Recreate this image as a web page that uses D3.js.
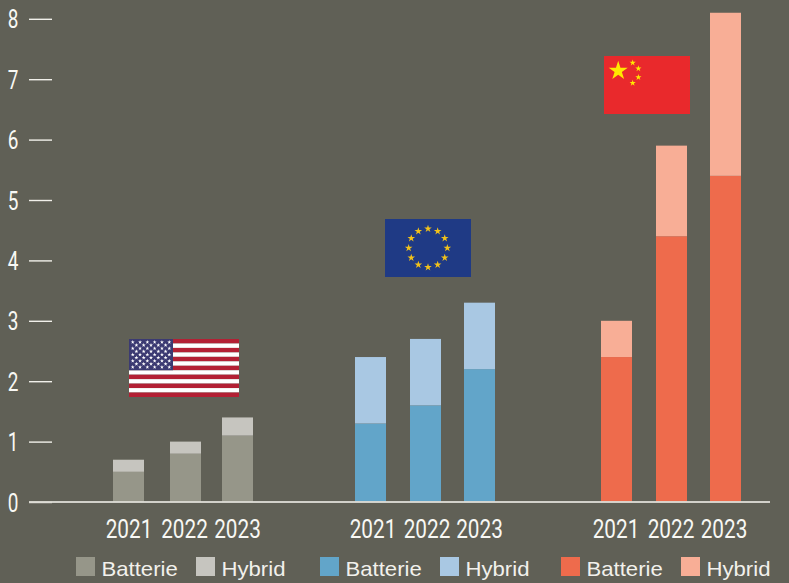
<!DOCTYPE html>
<html>
<head>
<meta charset="utf-8">
<script src="https://cdn.jsdelivr.net/npm/d3@7"></script>
<style>
  html, body { margin: 0; padding: 0; background: #606056; }
  svg { display: block; }
  .narrow { font-family: Roboto, "Liberation Sans", sans-serif; font-weight: 400; fill: #f8f8f4; }
  .legend { font-family: "Liberation Sans", Arial, sans-serif; fill: #f2f1ec; font-size: 20.5px; }
</style>
</head>
<body>
<svg id="chart" width="789" height="583"></svg>
<script>
// Annual values per region, split by drive type
const years = ["2021", "2022", "2023"];
const regions = ["USA", "EU", "China"];
const usaBattery = [0.5, 0.8, 1.1];
const usaHybrid = [0.2, 0.2, 0.3];
const euBattery = [1.3, 1.6, 2.2];
const euHybrid = [1.1, 1.1, 1.1];
const chinaBattery = [2.4, 4.4, 5.4];
const chinaHybrid = [0.6, 1.5, 2.7];
const yTicks = [0, 1, 2, 3, 4, 5, 6, 7, 8];
const legendLabels = ["Batterie", "Hybrid"];

const batteryByRegion = { USA: usaBattery, EU: euBattery, China: chinaBattery };
const hybridByRegion = { USA: usaHybrid, EU: euHybrid, China: chinaHybrid };

const batteryColor = d3.scaleOrdinal(regions, ["#969689", "#62a5c9", "#ee6b4c"]);
const hybridColor = d3.scaleOrdinal(regions, ["#c6c5bf", "#a9c8e3", "#f8ae96"]);

const svg = d3.select("#chart");
const y = d3.scaleLinear().domain([0, 8]).range([502, 18.8]);

// Bar slots are not evenly spaced, so each region has its own left edges
const barWidth = 31;
const barLeft = {
  USA: d3.scaleOrdinal(years, [113, 170, 222]),
  EU: d3.scaleOrdinal(years, [355, 410, 464]),
  China: d3.scaleOrdinal(years, [601, 656, 710])
};
const labelCentre = {
  USA: d3.scaleOrdinal(years, [129, 184.5, 237.5]),
  EU: d3.scaleOrdinal(years, [373, 427, 479.5]),
  China: d3.scaleOrdinal(years, [616, 671, 724])
};

// Stacked bars with condensed year labels below
regions.forEach(region => {
  const rows = years.map((year, i) => ({
    year,
    battery: batteryByRegion[region][i],
    hybrid: hybridByRegion[region][i]
  }));
  const layers = d3.stack().keys(["battery", "hybrid"])(rows);
  const g = svg.append("g").attr("class", "bars-" + region);
  layers.forEach(layer => {
    g.selectAll(null)
      .data(layer)
      .join("rect")
      .attr("x", d => barLeft[region](d.data.year))
      .attr("width", barWidth)
      .attr("y", d => y(d[1]))
      .attr("height", d => y(d[0]) - y(d[1]))
      .attr("fill", layer.key === "battery" ? batteryColor(region) : hybridColor(region));
  });
  g.selectAll("text")
    .data(years)
    .join("text")
    .attr("class", "narrow")
    .attr("transform", d => `translate(${labelCentre[region](d)},537.5) scale(0.83,1)`)
    .attr("text-anchor", "middle")
    .attr("font-size", 25)
    .text(d => d);
});

// Vertical axis: short ticks with condensed numerals on the far left
const axis = d3.axisLeft(y).tickValues(yTicks).tickSize(23).tickPadding(5).tickFormat(d3.format("d"));
const axisG = svg.append("g").attr("transform", "translate(52,0)").call(axis);
axisG.select(".domain").remove();
axisG.selectAll("line").attr("stroke", "#f1f0ea").attr("stroke-width", 1.4);
axisG.selectAll("text")
  .attr("class", "narrow")
  .attr("x", null)
  .attr("dy", null)
  .attr("text-anchor", "middle")
  .attr("font-size", 25)
  .attr("transform", "translate(-39,9) scale(0.76,1)");
axisG.attr("font-family", null).attr("font-size", null);

// Baseline runs over the bottoms of the bars
svg.append("line")
  .attr("x1", 29).attr("x2", 770)
  .attr("y1", y(0)).attr("y2", y(0))
  .attr("stroke", "#dcdbd4").attr("stroke-opacity", 0.92).attr("stroke-width", 2);

// Legend pairs, one per region
const legendX = { USA: [76, 196], EU: [320, 440], China: [561, 681] };
regions.forEach(region => {
  legendLabels.forEach((label, i) => {
    const x0 = legendX[region][i];
    svg.append("rect")
      .attr("x", x0).attr("y", 557).attr("width", 19).attr("height", 19)
      .attr("fill", i === 0 ? batteryColor(region) : hybridColor(region));
    svg.append("text")
      .attr("class", "legend")
      .attr("transform", `translate(${x0 + 25.5},575.5) scale(1.08,1)`)
      .text(label);
  });
});

const star = r => d3.symbol().type(d3.symbolStar).size(Math.PI * r * r * 0.56)();

// US flag: thirteen stripes, blue canton, nine staggered rows of stars
function usFlag(x0, y0, w, h) {
  const g = svg.append("g").attr("transform", `translate(${x0},${y0})`);
  const stripeY = d3.scaleBand().domain(d3.range(13)).range([0, h]);
  g.selectAll(".stripe").data(d3.range(13)).join("rect")
    .attr("x", 0).attr("width", w)
    .attr("y", d => stripeY(d)).attr("height", stripeY.bandwidth())
    .attr("fill", d => d % 2 ? "#ffffff" : "#b32034");
  const cantonW = w * 0.4, cantonH = stripeY.bandwidth() * 7;
  g.append("rect").attr("width", cantonW).attr("height", cantonH).attr("fill", "#3b3a72");
  const rowY = d3.scaleLinear().domain([0, 8]).range([cantonH * 0.1, cantonH * 0.9]);
  const colX = d3.scaleLinear().domain([0, 10]).range([cantonW * 0.085, cantonW * 0.915]);
  d3.range(9).forEach(row => {
    const cols = d3.range(row % 2 ? 1 : 0, 11, 2);
    g.selectAll(null).data(cols).join("path")
      .attr("d", star(1.7))
      .attr("transform", c => `translate(${colX(c)},${rowY(row)})`)
      .attr("fill", "#ffffff");
  });
}

// EU flag: twelve gold stars in a ring
function euFlag(x0, y0, w, h) {
  const g = svg.append("g").attr("transform", `translate(${x0},${y0})`);
  g.append("rect").attr("width", w).attr("height", h).attr("fill", "#1f3a85");
  const ring = h / 3;
  g.selectAll("path").data(d3.range(12)).join("path")
    .attr("d", star(3.2))
    .attr("transform", i => {
      const a = i / 12 * 2 * Math.PI;
      return `translate(${w / 2 + ring * Math.sin(a)},${h / 2 - ring * Math.cos(a)})`;
    })
    .attr("fill", "#f2c21a");
}

// Chinese flag: one large star and an arc of four small ones
function cnFlag(x0, y0, w, h) {
  const g = svg.append("g").attr("transform", `translate(${x0},${y0})`);
  g.append("rect").attr("width", w).attr("height", h).attr("fill", "#e9292c");
  g.append("path").attr("d", star(8))
    .attr("transform", `translate(${w / 6.05},${h / 3.9})`)
    .attr("fill", "#ffe800");
  const small = [[1 / 3, 1 / 10], [2 / 5, 1 / 5], [2 / 5, 7 / 20], [1 / 3, 9 / 20]];
  g.selectAll(".s").data(small).join("path")
    .attr("d", star(2.6))
    .attr("transform", d => `translate(${d[0] * w},${d[1] * h + 1})`)
    .attr("fill", "#ffe800");
}

usFlag(129, 339, 110, 58);
euFlag(385, 219, 86, 58);
cnFlag(604, 56, 86, 58);
</script>
</body>
</html>
